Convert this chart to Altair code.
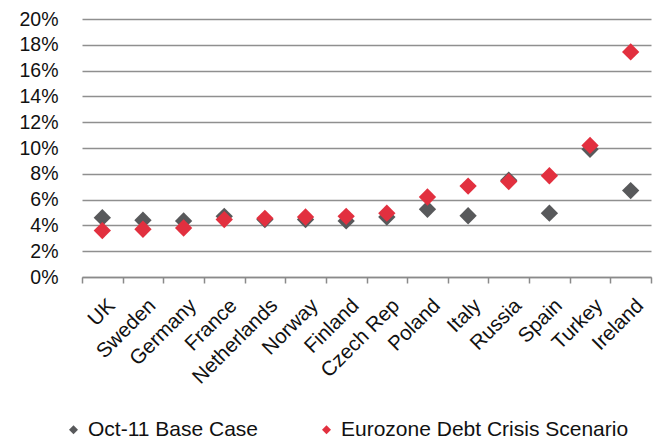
import altair as alt
import pandas as pd

countries = ["UK", "Sweden", "Germany", "France", "Netherlands", "Norway", "Finland",
             "Czech Rep", "Poland", "Italy", "Russia", "Spain", "Turkey", "Ireland"]
base_case = [4.6, 4.4, 4.35, 4.7, 4.45, 4.45, 4.35, 4.65, 5.25, 4.75, 7.5, 4.95, 9.9, 6.7]
crisis = [3.6, 3.7, 3.8, 4.45, 4.55, 4.65, 4.7, 4.95, 6.2, 7.05, 7.4, 7.85, 10.2, 17.45]
series_names = ["Oct-11 Base Case", "Eurozone Debt Crisis Scenario"]
series_colors = ["#58595B", "#E2303F"]
y_ticks = [0, 0.02, 0.04, 0.06, 0.08, 0.10, 0.12, 0.14, 0.16, 0.18, 0.20]

rows = []
for c, v in zip(countries, base_case):
    rows.append({"country": c, "series": series_names[0], "value": v / 100})
for c, v in zip(countries, crisis):
    rows.append({"country": c, "series": series_names[1], "value": v / 100})
df = pd.DataFrame(rows)

FONT = "Liberation Sans"

chart = alt.Chart(df).mark_point(
    shape="diamond", filled=True, size=300, opacity=1
).encode(
    x=alt.X("country:N", sort=countries,
            scale=alt.Scale(type="band", paddingInner=0, paddingOuter=0),
            axis=alt.Axis(title=None, labelAngle=-45, labelAlign="right", labelBaseline="top",
                          labelFontSize=20.5, labelFont=FONT, labelColor="#111111",
                          labelPadding=12, labelOffset=2, tickBand="extent", tickSize=6,
                          tickColor="#8a8a8a", tickWidth=1.5,
                          domainColor="#8a8a8a", domainWidth=1.5, grid=False)),
    y=alt.Y("value:Q",
            scale=alt.Scale(domain=[0, 0.2], nice=False),
            axis=alt.Axis(title=None, values=y_ticks, format=".0%", domain=False, ticks=False,
                          labelFontSize=19.5, labelFont=FONT, labelColor="#111111",
                          labelPadding=24, grid=True, gridColor="#8f8f8f", gridWidth=1.5)),
    color=alt.Color("series:N", sort=series_names,
                    scale=alt.Scale(domain=series_names, range=series_colors),
                    legend=alt.Legend(title=None, orient="none", direction="horizontal",
                                      legendX=-19, legendY=400, symbolType="diamond",
                                      symbolSize=80, labelFontSize=21, labelFont=FONT,
                                      labelColor="#111111", labelOffset=4,
                                      columnPadding=57, labelLimit=400)),
).properties(
    width=569, height=258,
    autosize=alt.AutoSizeParams(type="none"),
    padding={"left": 82, "top": 19, "right": 16, "bottom": 162},
).configure_view(stroke=None)

chart.save("out.html", embed_options={"renderer": "svg", "actions": False})
